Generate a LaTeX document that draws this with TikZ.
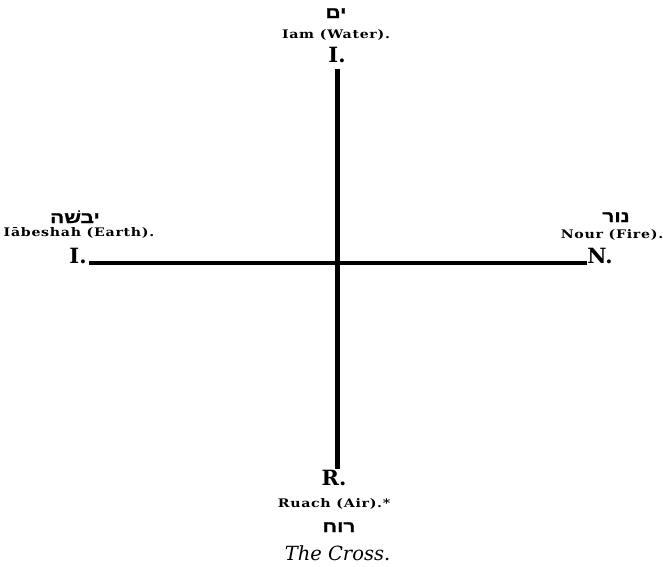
\documentclass[tikz,border=0pt]{standalone}
\usepackage{fontspec}
\setmainfont{DejaVu Serif}
\newfontfamily\namefont[FakeStretch=1.2,LetterSpace=6]{DejaVu Serif}
\newfontfamily\hebfont[Script=Hebrew,FakeBold=1.5,FakeStretch=1.3]{Liberation Sans Bold}
\TeXXeTstate=1
\usetikzlibrary{positioning}

\begin{document}
\begin{tikzpicture}[x=1pt, y=-1pt,
    letter/.style={font=\fontsize{21}{24}\selectfont\bfseries, inner sep=0pt, anchor=base},
    elname/.style={font=\namefont\fontsize{11.8}{13}\selectfont\bfseries, inner sep=0pt, anchor=base},
    heb/.style={font=\hebfont\fontsize{16}{18}\selectfont, inner sep=0pt, anchor=base},
    arm/.style={line width=#1, line cap=butt}]
  \useasboundingbox (0,0) rectangle (663,566);
  % top: water
  \node[heb] (waterheb) at (336,18) {\beginR ים\endR};
  \node[elname] (watername) at (336,38) {Iam (Water).};
  \node[letter] (waterI) at (337,62) {I.};
  % left: earth
  \node[heb] (earthheb) at (75,223) {\beginR יבשׁה\endR};
  \node[elname] (earthname) at (79,236) {Iābeshah (Earth).};
  \node[letter] (earthI) at (78,263) {I.};
  % right: fire
  \node[heb] (fireheb) at (616,222) {\beginR נור\endR};
  \node[elname] (firename) at (612,238) {Nour (Fire).};
  \node[letter] (fireN) at (600,263) {N.};
  % bottom: air
  \node[letter] (airR) at (334,485) {R.};
  \node[elname] (airname) at (334,507) {Ruach (Air).*};
  \node[heb] (airheb) at (339,532) {\beginR רוח\endR};
  \node[font=\fontsize{19.5}{22}\selectfont\itshape, inner sep=0pt, anchor=base] (caption) at (337.5,560) {The Cross.};
  % the two arms
  \draw[arm=5pt, shorten <=6pt, shorten >=1pt] (waterI.south) -- (waterI.south |- airR.north);
  \draw[arm=4pt, shorten <=2pt] (earthI.base east) -- (fireN.base west);
\end{tikzpicture}
\end{document}
